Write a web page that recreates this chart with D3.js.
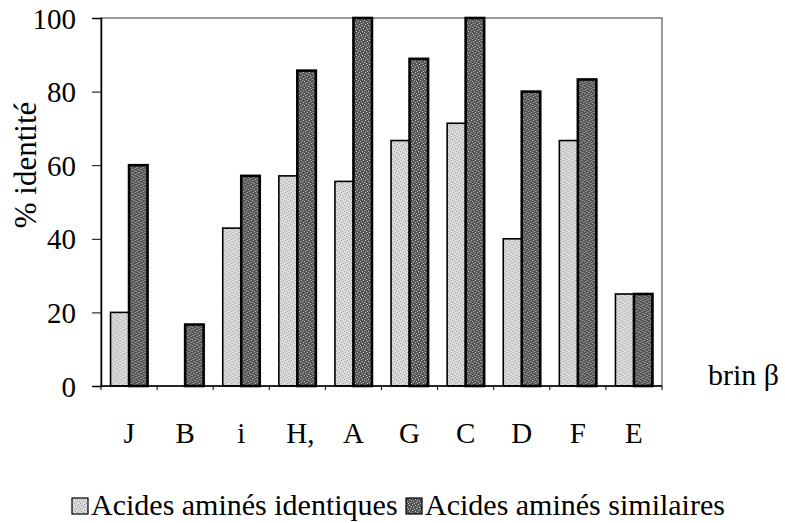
<!DOCTYPE html>
<html>
<head>
<meta charset="utf-8">
<script src="https://cdn.jsdelivr.net/npm/d3@7"></script>
<style>
  body { margin: 0; background: #fff; }
</style>
</head>
<body>
<div id="chart"></div>
<script>
// data
var strands = ["J", "B", "i", "H,", "A", "G", "C", "D", "F", "E"];
var identical = [20, 0, 42.9, 57.1, 55.6, 66.7, 71.4, 40, 66.7, 25];
var similar = [60, 16.7, 57.1, 85.7, 100, 88.9, 100, 80, 83.3, 25];
var seriesNames = ["Acides aminés identiques", "Acides aminés similaires"];
var yTicks = [0, 20, 40, 60, 80, 100];

var FONT = "'Liberation Serif', 'Times New Roman', Times, serif";
var FS = "29px";

var W = 785, H = 523;
var margin = {top: 18, right: 123, bottom: 137, left: 101};
var width = W - margin.left - margin.right;
var height = H - margin.top - margin.bottom;

var svg = d3.select("#chart").append("svg")
  .attr("width", W).attr("height", H);

// stipple patterns for the two series
var defs = svg.append("defs");
function stipple(id, base, dot) {
  var p = defs.append("pattern").attr("id", id)
    .attr("patternUnits", "userSpaceOnUse").attr("width", 6).attr("height", 6);
  p.append("rect").attr("width", 6).attr("height", 6).attr("fill", base);
  [[0, 0], [3, 1], [1, 3], [4, 4], [2, 5], [5, 2]].forEach(function(d) {
    p.append("rect").attr("x", d[0]).attr("y", d[1]).attr("width", 1).attr("height", 1).attr("fill", dot);
  });
}
stipple("patLight", "#dcdcdc", "#9a9a9a");
stipple("patDark", "#555", "#c8c8c8");
var fills = ["url(#patLight)", "url(#patDark)"];

var g = svg.append("g").attr("transform", "translate(" + margin.left + "," + margin.top + ")");

var x = d3.scaleBand().domain(strands).range([0, width]);
var x1 = d3.scaleBand().domain([0, 1]).range([0, 37]);
var y = d3.scaleLinear().domain([0, 100]).range([height, 0]);

// plot frame
g.append("rect").attr("width", width).attr("height", height)
  .attr("fill", "none").attr("stroke", "#333").attr("stroke-width", 1);

// bars
var rows = strands.map(function(s, i) { return {s: s, v: [identical[i], similar[i]]}; });
var grp = g.selectAll(".grp").data(rows).enter().append("g")
  .attr("transform", function(d) { return "translate(" + (x(d.s) + x.bandwidth() / 2 - 18.5) + ",0)"; });
grp.selectAll("rect").data(function(d) { return d.v.map(function(v, k) { return {k: k, v: v}; }); })
  .enter().append("rect")
  .filter(function(d) { return d.v > 0; })
  .attr("x", function(d) { return x1(d.k); })
  .attr("y", function(d) { return y(d.v); })
  .attr("width", x1.bandwidth())
  .attr("height", function(d) { return height - y(d.v); })
  .attr("fill", function(d) { return fills[d.k]; })
  .attr("stroke", "#000")
  .attr("stroke-width", function(d) { return d.k === 0 ? 1.6 : 2.6; });

// y axis
var yAxis = g.append("g").call(d3.axisLeft(y).tickValues(yTicks).tickSize(9).tickPadding(16));
yAxis.select(".domain").attr("stroke", "#000").attr("stroke-width", 1.5);
yAxis.selectAll("line").attr("stroke", "#000");
yAxis.selectAll("text")
  .style("font-family", FONT).style("font-size", FS).attr("dy", "0.35em");

// x axis (ticks at category boundaries)
var bounds = strands.map(function(s) { return x(s); }).concat([width]);
var xAxis = g.append("g").attr("transform", "translate(0," + height + ")");
xAxis.append("line").attr("x1", 0).attr("x2", width).attr("stroke", "#000").attr("stroke-width", 1.5);
xAxis.selectAll(".tk").data(bounds).enter().append("line")
  .attr("x1", function(d) { return d; }).attr("x2", function(d) { return d; })
  .attr("y1", 0).attr("y2", 4).attr("stroke", "#000");
xAxis.selectAll(".lbl").data(strands).enter().append("text")
  .attr("x", function(d) { return x(d) + x.bandwidth() / 2 + (d === "H," ? 3 : 0); })
  .attr("y", 57)
  .attr("text-anchor", "middle")
  .style("font-family", FONT).style("font-size", FS)
  .text(function(d) { return d; });

// axis titles
svg.append("text")
  .attr("transform", "translate(36,165) rotate(-90)")
  .attr("text-anchor", "middle")
  .style("font-family", FONT).style("font-size", "31px")
  .text("% identité");
svg.append("text")
  .attr("x", 708).attr("y", 385)
  .style("font-family", FONT).style("font-size", "30px")
  .text("brin β");

// legend
var legX = [72, 406];
seriesNames.forEach(function(name, k) {
  var it = svg.append("g").attr("transform", "translate(" + legX[k] + ",498)");
  it.append("rect").attr("x", 0).attr("y", 0).attr("width", 16).attr("height", 16)
    .attr("fill", fills[k]).attr("stroke", "#000").attr("stroke-width", 1.2);
  it.append("text").attr("x", 19).attr("y", 17)
    .style("font-family", FONT).style("font-size", "30px").text(name);
});
</script>
</body>
</html>
